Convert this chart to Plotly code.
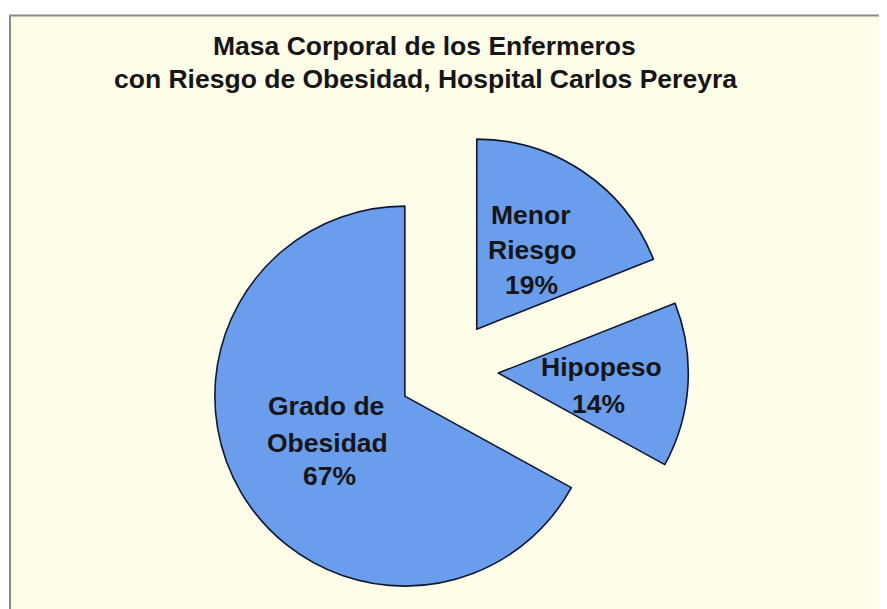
import plotly.graph_objects as go

# ---- data ----
categories = ["Menor Riesgo", "Hipopeso", "Grado de Obesidad"]
values = [19, 14, 67]
label_lines = [["Menor", "Riesgo"], ["Hipopeso"], ["Grado de", "Obesidad"]]
title_lines = ["Masa Corporal de los Enfermeros",
               "con Riesgo de Obesidad, Hospital Carlos Pereyra"]

# ---- style / layout constants ----
W, H = 887, 609
OFF = 8          # page body margin of the html output
TXT_DY = 2       # glyph centre vs text box centre
BLUE = "rgb(106,157,236)"
CREAM = "#FEFDE8"
FONT = "Liberation Sans, Arial, sans-serif"
TXT = "#161616"
PULLS = [0.26, 0.26, 0.27]

# target screen positions (centre of each text line) for each slice's label block
label_pos = {
    "Grado de Obesidad": [(326, 408), (327, 445), (329, 478)],
    "Hipopeso": [(601, 369), (598, 406)],
    "Menor Riesgo": [(531, 217), (532, 252), (531, 287)],
}
title_pos = [(424, 48), (425, 81)]

cx, cy = 449, 370        # pie centre on screen
radius = 190
box = radius * (2 + 2 * max(PULLS))  # pie box size in pixels


def px_to_paper(px, py, dy=0):
    return (px - OFF) / W, 1 - (py - OFF - dy) / H


pcx, pcy = cx - OFF, H - (cy - OFF)
fig = go.Figure()
fig.add_trace(go.Pie(
    labels=categories,
    values=values,
    sort=False,
    direction="clockwise",
    rotation=0,
    pull=PULLS,
    marker=dict(colors=[BLUE] * len(values), line=dict(color="#101830", width=1.6)),
    textinfo="none",
    hoverinfo="label+percent",
    showlegend=False,
    domain=dict(x=[(pcx - box / 2) / W, (pcx + box / 2) / W],
                y=[(pcy - box / 2) / H, (pcy + box / 2) / H]),
))

annotations = []
total = sum(values)
for cat, val, lines in zip(categories, values, label_lines):
    texts = lines + [f"{round(100 * val / total)}%"]
    for t, (px, py) in zip(texts, label_pos[cat]):
        x, y = px_to_paper(px, py, TXT_DY)
        annotations.append(dict(
            text=f"<b>{t}</b>", x=x, y=y, xref="paper", yref="paper",
            xanchor="center", yanchor="middle", showarrow=False,
            font=dict(family=FONT, size=26.5, color=TXT)))

for t, (px, py) in zip(title_lines, title_pos):
    x, y = px_to_paper(px, py, TXT_DY)
    annotations.append(dict(
        text=f"<b>{t}</b>", x=x, y=y, xref="paper", yref="paper",
        xanchor="center", yanchor="middle", showarrow=False,
        font=dict(family=FONT, size=26.5, color=TXT)))

bx0, by1 = px_to_paper(10, 15.5)
fig.update_layout(
    width=W, height=H,
    margin=dict(l=0, r=0, t=0, b=0),
    paper_bgcolor="white",
    annotations=annotations,
    shapes=[dict(type="rect", xref="paper", yref="paper", layer="below",
                 x0=bx0, x1=1.02, y0=-0.02, y1=by1,
                 line=dict(color="#8a8a8a", width=2), fillcolor=CREAM)],
)

fig.write_html("out.html")
